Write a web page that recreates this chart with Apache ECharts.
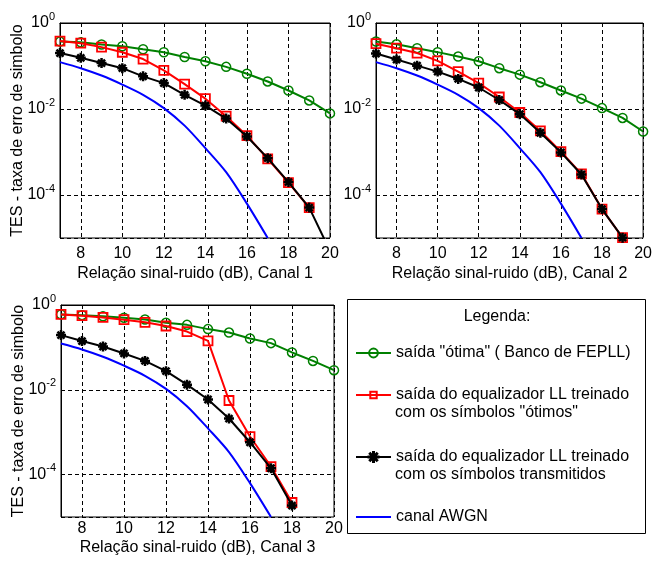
<!DOCTYPE html>
<html><head><meta charset="utf-8">
<script src="https://cdn.jsdelivr.net/npm/echarts@6/dist/echarts.min.js"></script>
<style>html,body{margin:0;padding:0;background:#fff}#c{width:655px;height:561px}</style>
</head><body><div id="c"></div>
<script>
// ---------- data ----------
const snr = [7, 8, 9, 10, 11, 12, 13, 14, 15, 16, 17, 18, 19, 20];
const xTickLabels = [8, 10, 12, 14, 16, 18, 20];
const yTickExponents = ['0', '-2', '-4'];

const nameOtima = 'saída "ótima" ( Banco de FEPLL)';
const nameLLotimos = 'saída do equalizador LL treinado';
const nameLLtrans = 'saída do equalizador LL treinado ';
const nameAWGN = 'canal AWGN';
const secondLineOtimos = 'com os símbolos "ótimos"';
const secondLineTrans = 'com os símbolos transmitidos';
const legendTitle = 'Legenda:';
const xNames = ['Relação sinal-ruido (dB), Canal 1', 'Relação sinal-ruido (dB), Canal 2', 'Relação sinal-ruido (dB), Canal 3'];
const yName = 'TES - taxa de erro de simbolo';

// AWGN curve (same in all three channels)
const awgn = [0.123, 0.089, 0.060, 0.037, 0.0214, 0.0105, 0.0041, 0.00123, 3.4e-4, 6.3e-5, 1.0e-5];

// Canal 1
const c1Otima = [0.37, 0.355, 0.316, 0.288, 0.245, 0.209, 0.162, 0.129, 0.0955, 0.066, 0.0437, 0.0269, 0.0158, 0.0079];
const c1LLotimos = [0.38, 0.34, 0.275, 0.209, 0.145, 0.079, 0.038, 0.0174, 0.0068, 0.0024, 6.9e-4, 1.95e-4, 5.1e-5];
const c1LLtrans = [0.20, 0.155, 0.117, 0.089, 0.0575, 0.040, 0.0214, 0.012, 0.006, 0.0023, 7.2e-4, 2.0e-4, 5.1e-5, 5.0e-6];

// Canal 2
const c2Otima = [0.37, 0.32, 0.26, 0.21, 0.166, 0.129, 0.089, 0.063, 0.042, 0.027, 0.0174, 0.0105, 0.0062, 0.003];
const c2LLotimos = [0.33, 0.26, 0.20, 0.132, 0.074, 0.040, 0.019, 0.0083, 0.0031, 0.00102, 3.1e-4, 4.7e-5, 1.02e-5];
const c2LLtrans = [0.195, 0.141, 0.102, 0.074, 0.050, 0.0316, 0.0162, 0.0076, 0.0028, 9.8e-4, 3.0e-4, 4.7e-5, 1.02e-5];

// Canal 3
const c3Otima = [0.60, 0.575, 0.54, 0.50, 0.457, 0.38, 0.34, 0.27, 0.224, 0.162, 0.126, 0.076, 0.048, 0.029];
const c3LLotimos = [0.60, 0.56, 0.51, 0.45, 0.39, 0.32, 0.236, 0.142, 0.0056, 7.9e-4, 1.55e-4, 2.2e-5];
const c3LLtrans = [0.195, 0.141, 0.105, 0.072, 0.048, 0.0275, 0.0132, 0.0059, 0.0021, 5.8e-4, 1.41e-4, 1.86e-5];

// ---------- styles ----------
const FONT = 'Liberation Sans';
const GREEN = '#008000', RED = '#ff0000', BLACK = '#000000', BLUE = '#0000ff';
const STAR = 'path://M0 7.5H20V12.5H0Z M7.5 0H12.5V20H7.5Z M1.2 4.7L4.7 1.2L18.8 15.3L15.3 18.8Z M15.3 1.2L18.8 4.7L4.7 18.8L1.2 15.3Z';
const STAR_LEG = 'path://M0 8.7H20V11.3H0Z M8.7 0H11.3V20H8.7Z M2 3.8L3.8 2L18 16.2L16.2 18Z M16.2 2L18 3.8L3.8 18L2 16.2Z';

const grids = [
  {left: 60, top: 23, width: 270, height: 215},
  {left: 376, top: 23, width: 272, height: 215},
  {left: 61, top: 305, width: 273, height: 212}
];
const xLabelMargin = [8, 8, 4];
const xNameGap = [28, 28, 23];

function pairs(arr) { return arr.map((v, i) => [snr[i], v]); }

const xAxis = [], yAxis = [], series = [];
const panels = [
  [c1Otima, c1LLotimos, c1LLtrans],
  [c2Otima, c2LLotimos, c2LLtrans],
  [c3Otima, c3LLotimos, c3LLtrans]
];
const dashed = {show: true, lineStyle: {color: '#000', width: 1, type: [4, 3]}};

panels.forEach((p, i) => {
  xAxis.push({
    gridIndex: i, type: 'value', min: 7, max: 20, minInterval: 2, maxInterval: 2,
    axisLine: {show: true, lineStyle: {color: '#000', width: 1}},
    axisTick: {show: false},
    axisLabel: {
      color: '#000', fontSize: 16, fontFamily: FONT, margin: xLabelMargin[i],
      formatter: v => (xTickLabels.indexOf(v) >= 0 ? String(v) : '')
    },
    splitLine: dashed,
    name: xNames[i], nameLocation: 'middle', nameGap: xNameGap[i],
    nameTextStyle: {color: '#000', fontSize: 16, fontFamily: FONT}
  });
  yAxis.push({
    gridIndex: i, type: 'log', logBase: 10, min: 1e-5, max: 1, position: 'left',
    axisLine: {show: true, lineStyle: {color: '#000', width: 1}},
    axisTick: {show: false}, axisLabel: {show: false}, splitLine: {show: false},
    name: i === 1 ? '' : yName, nameLocation: 'middle', nameGap: 34,
    nameTextStyle: {color: '#000', fontSize: 16, fontFamily: FONT}
  });
  yAxis.push({
    gridIndex: i, type: 'value', min: 0, max: 5, inverse: true, minInterval: 2, maxInterval: 2,
    position: 'left', offset: 0,
    axisLine: {show: false}, axisTick: {show: false},
    axisLabel: {
      margin: 5,
      formatter: v => {
        const k = v / 2;
        if (v % 2 !== 0 || k >= yTickExponents.length) return '';
        return '{b|10}{s|' + yTickExponents[k] + '}';
      },
      rich: {
        b: {fontSize: 16, fontFamily: FONT, color: '#000', lineHeight: 24, verticalAlign: 'middle'},
        s: {fontSize: 11, fontFamily: FONT, color: '#000', lineHeight: 12, verticalAlign: 'top'}
      }
    },
    splitLine: dashed
  });
  const yIdx = 2 * i;
  series.push({
    name: nameOtima, type: 'line', xAxisIndex: i, yAxisIndex: yIdx, data: pairs(p[0]),
    symbol: 'circle', symbolSize: 9,
    lineStyle: {color: GREEN, width: 2},
    itemStyle: {color: 'rgba(255,255,255,0)', borderColor: GREEN, borderWidth: 1.5},
    z: 3
  });
  series.push({
    name: nameLLotimos, type: 'line', xAxisIndex: i, yAxisIndex: yIdx, data: pairs(p[1]),
    symbol: 'rect', symbolSize: 9,
    lineStyle: {color: RED, width: 2},
    itemStyle: {color: 'rgba(255,255,255,0)', borderColor: RED, borderWidth: 1.8},
    z: 4
  });
  series.push({
    name: nameLLtrans, type: 'line', xAxisIndex: i, yAxisIndex: yIdx, data: pairs(p[2]),
    symbol: STAR, symbolSize: 10,
    lineStyle: {color: BLACK, width: 2},
    itemStyle: {color: BLACK, borderWidth: 0},
    z: 5
  });
  series.push({
    name: nameAWGN, type: 'line', xAxisIndex: i, yAxisIndex: yIdx, data: pairs(awgn),
    symbol: 'none', smooth: 0.3,
    lineStyle: {color: BLUE, width: 2},
    itemStyle: {color: BLUE, opacity: 0},
    z: 2
  });
});

const legTxt = {color: '#000', fontSize: 16, fontFamily: FONT};
function leg(item, top, h) {
  return {
    data: [item], left: 355, top: top, orient: 'vertical', padding: 0,
    itemWidth: 35, itemHeight: h, selectedMode: false, textStyle: legTxt
  };
}

const option = {
  animation: false,
  textStyle: {fontFamily: FONT},
  grid: grids.map(g => Object.assign({show: true, borderColor: '#000', borderWidth: 1, backgroundColor: 'transparent'}, g)),
  xAxis: xAxis,
  yAxis: yAxis,
  series: series,
  legend: [
    leg(nameOtima, 345, 11),
    leg(nameLLotimos, 387, 8),
    leg(nameLLtrans, 449, 15),
    leg(nameAWGN, 509, 10)
  ],
  graphic: [
    {type: 'rect', shape: {x: 347.5, y: 299.5, width: 298, height: 234}, style: {fill: 'none', stroke: '#000', lineWidth: 1}, z: 1},
    {type: 'text', x: 497, y: 317, style: {text: legendTitle, fill: '#000', font: '16px "Liberation Sans"', align: 'center', verticalAlign: 'middle'}, z: 5},
    {type: 'text', x: 395, y: 413, style: {text: secondLineOtimos, fill: '#000', font: '16px "Liberation Sans"', align: 'left', verticalAlign: 'middle'}, z: 5},
    {type: 'text', x: 395, y: 475, style: {text: secondLineTrans, fill: '#000', font: '16px "Liberation Sans"', align: 'left', verticalAlign: 'middle'}, z: 5}
  ]
};

const chart = echarts.init(document.getElementById('c'), null, {renderer: 'canvas'});
chart.setOption(option);
</script>
</body></html>
